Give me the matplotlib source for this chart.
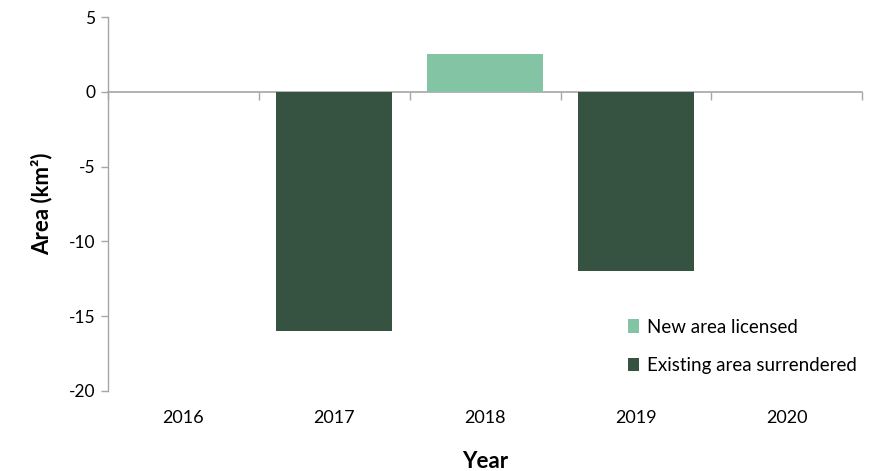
import numpy as np
import matplotlib.pyplot as plt

plt.rcParams['font.family'] = ['Lato', 'DejaVu Sans']

# data
years = ["2016", "2017", "2018", "2019", "2020"]
new_licensed = [0, 0, 2.5, 0, 0]
surrendered = [0, -16, 0, -12, 0]

axis_grey = "#A6A6A6"
text_col = "#000000"

fig = plt.figure(figsize=(8.79, 4.71), dpi=100)
ax = fig.add_axes([0.1229, 0.1699, 0.858, 0.794])

x = np.arange(len(years))
ax.bar(x, new_licensed, width=0.77, color="#82C4A4", label="New area licensed", zorder=2)
ax.bar(x, surrendered, width=0.77, color="#365342", label="Existing area surrendered", zorder=2)

ax.set_xlim(-0.5, len(years) - 0.5)
ax.set_ylim(-20, 5)
ax.set_yticks([5, 0, -5, -10, -15, -20])
ax.set_yticklabels(["5", "0", "-5", "-10", "-15", "-20"])

ax.set_xticks(x)
ax.set_xticklabels(years)
ax.tick_params(axis="x", length=0, pad=14, labelsize=13, colors=text_col)
ax.tick_params(axis="y", length=5, width=1, color=axis_grey, labelsize=12.5, pad=4)

for s in ["top", "right", "bottom"]:
    ax.spines[s].set_visible(False)
ax.spines["left"].set_color(axis_grey)
ax.spines["left"].set_linewidth(1)

# zero line with category boundary ticks (pointing down)
sec = ax.secondary_xaxis(0.8)
sec.set_xticks(np.arange(-0.5, len(years), 1.0))
sec.set_xticklabels([""] * (len(years) + 1))
sec.tick_params(axis="x", which="both", direction="in", length=6, width=1,
                color=axis_grey, top=True, bottom=False,
                labeltop=False, labelbottom=False)
for s in ["top", "bottom"]:
    sec.spines[s].set_color(axis_grey)
    sec.spines[s].set_linewidth(1.2)
    sec.spines[s].set_zorder(3)

ax.set_xlabel("Year", fontsize=16, fontweight="bold", labelpad=18)
ax.set_ylabel("Area (km²)", fontsize=16, fontweight="bold", labelpad=12)

ax.legend(loc="lower right", bbox_to_anchor=(1.015, 0.0), frameon=False,
          fontsize=13.5, handlelength=0.6, handleheight=0.7, handletextpad=0.4,
          labelspacing=1.15)

fig.savefig("out.png", dpi=100)
